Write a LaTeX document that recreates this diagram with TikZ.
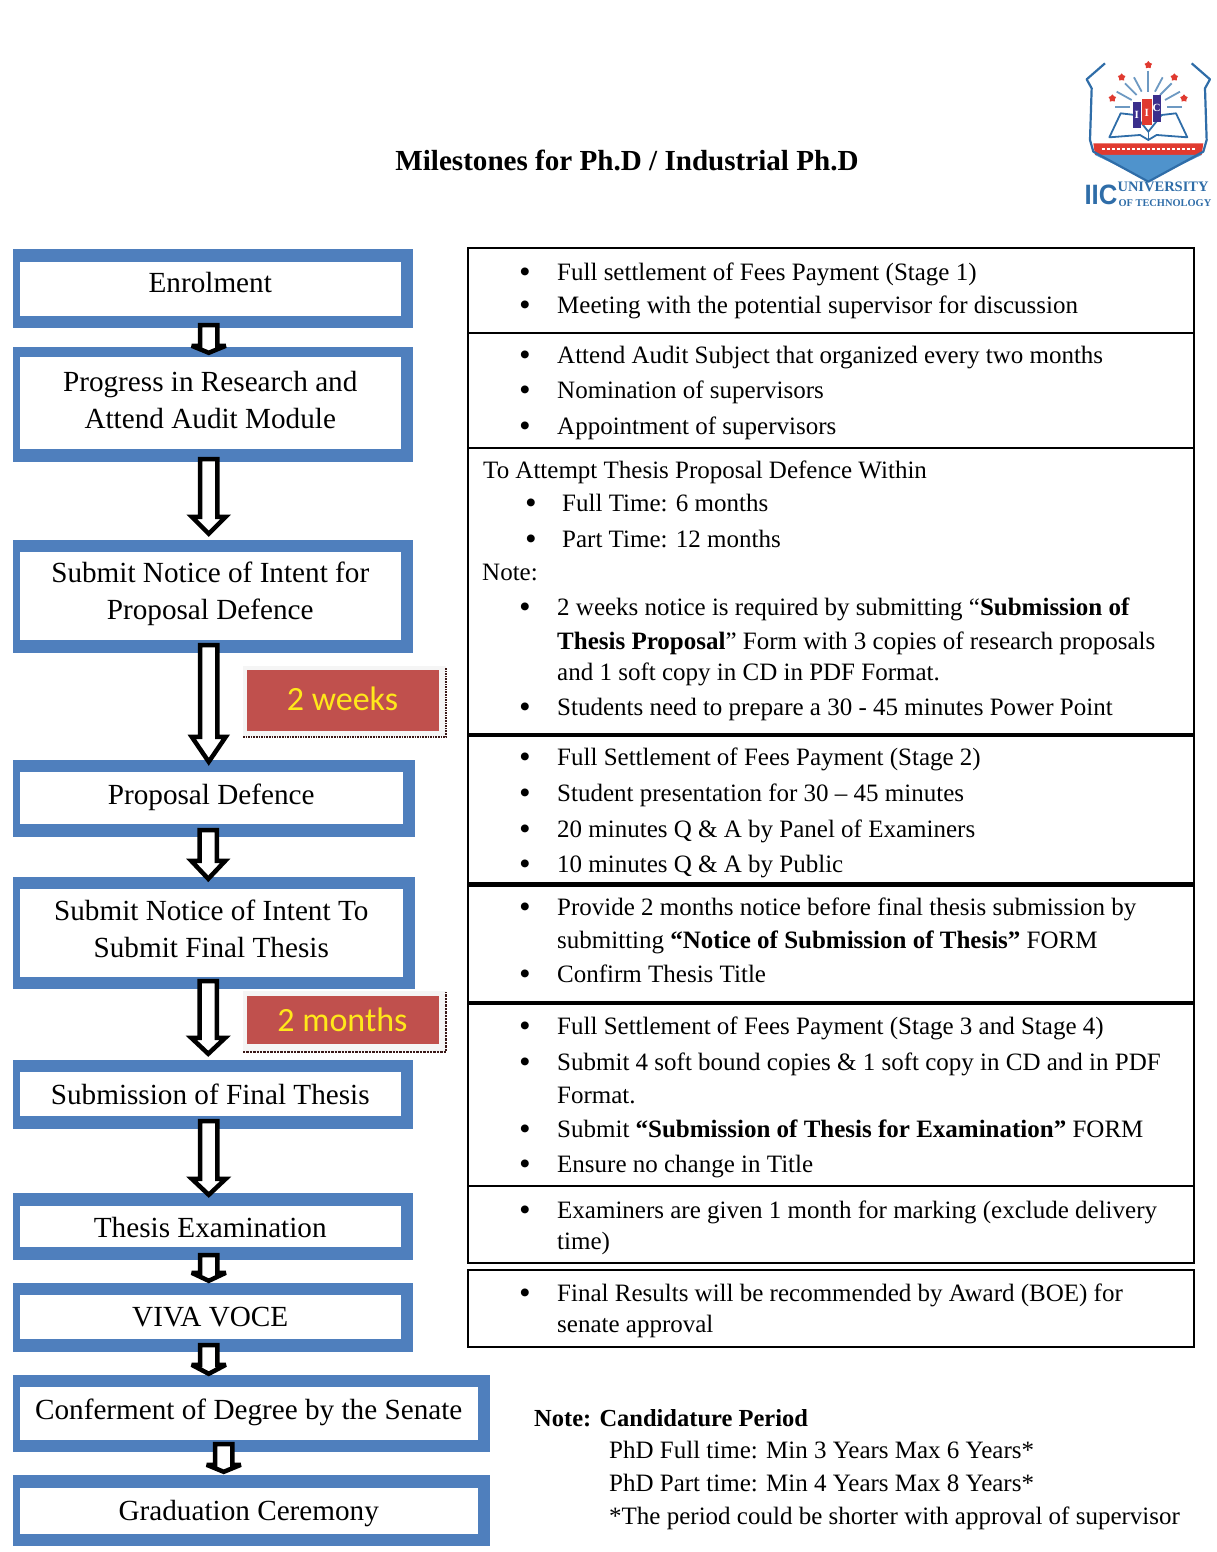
\documentclass[tikz,border=0pt]{standalone}
\usepackage{fontspec}
\setmainfont{Liberation Serif}
\setsansfont{Liberation Sans}
\newfontfamily\tagfont{Carlito}
\usetikzlibrary{calc,shapes.geometric}
\definecolor{stageblue}{HTML}{4F7FBD}
\definecolor{tagred}{HTML}{C0504D}
\definecolor{tagyellow}{HTML}{FFE81A}
\definecolor{crestblue}{HTML}{2F6DA8}
\definecolor{crestsky}{HTML}{4F93CC}
\definecolor{crestred}{HTML}{E03A30}
\definecolor{crestpurple}{HTML}{3B2F8C}
\begin{document}
\begin{tikzpicture}[x=1pt, y=-1pt,
    stagebox/.style={fill=white, inner sep=0pt},
    stagetext/.style={align=center, inner sep=0pt, font=\fontsize{29.2}{37.5}\selectfont},
    rowtext/.style={anchor=base west, inner sep=0pt, font=\fontsize{25}{30}\selectfont},
    rowbullet/.style={anchor=base, inner sep=0pt, yshift=-1.5pt, font=\bfseries\fontsize{29}{30}\selectfont},
    tagbox/.style={fill=tagred, text=tagyellow, inner sep=0pt, minimum width=192pt, font=\tagfont\fontsize{34}{36}\selectfont},
    blockarrow/.style={draw=black, fill=white, line width=4.5pt, miter limit=3,
        to path={let \p1=(\tikztostart), \p2=(\tikztotarget) in
            (\x1-8.7pt,\y1) -- (\x1+8.7pt,\y1) -- (\x1+8.7pt,\y2+#1pt) -- (\x1+17pt,\y2+#1pt)
            -- (\x1,\y2) -- (\x1-17pt,\y2+#1pt) -- (\x1-8.7pt,\y2+#1pt) -- cycle}},
    blockarrow/.default=17]
\useasboundingbox (0,0) rectangle (1217,1552);

\node[anchor=base, inner sep=0pt, font=\bfseries\fontsize{29.1}{32}\selectfont] (title) at (627,170)
    {Milestones for Ph.D / Industrial Ph.D};

% left column
\foreach \n/\xa/\ya/\xb/\yb/\ia/\ib/\ty/\t in {
    enrol/13/249/413/328/262/316/283/{Enrolment},
    progress/13/347/413/462/357/449/400/{Progress in Research and\\Attend Audit Module},
    notice/13/540/413/653/552/640/594/{Submit Notice of Intent for\\Proposal Defence},
    defence/13/760/415/837/772/824/797/{Proposal Defence},
    intent/13/877/415/989/889/977/929/{Submit Notice of Intent To\\Submit Final Thesis},
    submission/13/1060/413/1129/1072/1116/1094/{Submission of Final Thesis},
    examination/13/1193/413/1260/1206/1247/1227/{Thesis Examination},
    viva/13/1283/413/1352/1295/1339/1317/{VIVA VOCE},
    senate/13/1375/490/1452/1387/1440/1412/{Conferment of Degree by the Senate},
    ceremony/13/1475/490/1546/1488/1534/1514/{Graduation Ceremony}} {
    \fill[stageblue] (\xa,\ya) rectangle (\xb,\yb);
    \node[stagebox, minimum width={(\xb-\xa-18.5)*1pt}, minimum height={(\ib-\ia)*1pt}]
        (\n) at ({(\xa+6.5+\xb-12)/2},{(\ia+\ib)/2}) {};
    \node[stagetext] (\n-text) at (\n |- 0,\ty) {\t};
}

\draw[blockarrow=7] ([xshift=-1.5pt,yshift=-9pt]enrol.south) to ([yshift=4pt]progress.north);
\draw[blockarrow=17] ([xshift=-1.5pt,yshift=-10pt]progress.south) to ([yshift=18pt]notice.north);
\draw[blockarrow=25] ([xshift=-1.5pt,yshift=-5pt]notice.south) to ([yshift=10pt]defence.north);
\draw[blockarrow=18] ([xshift=-3pt,yshift=-6pt]defence.south) to ([yshift=10pt]intent.north);
\draw[blockarrow=16] ([xshift=-3pt,yshift=-4pt]intent.south) to ([yshift=18pt]submission.north);
\draw[blockarrow=16] ([xshift=-1.5pt,yshift=-5pt]submission.south) to ([yshift=11pt]examination.north);
\draw[blockarrow=8] ([xshift=-1.5pt,yshift=-8pt]examination.south) to ([yshift=14pt]viva.north);
\draw[blockarrow=9] ([xshift=-1.5pt,yshift=-6pt]viva.south) to ([yshift=13pt]senate.north);
\draw[blockarrow=7] ([xshift=-25pt,yshift=-4pt]senate.south) to ([yshift=16pt]ceremony.north);

% time tags
\fill[black!4] (243,666) rectangle (446,737);
\draw[black!70!tagred, line width=1.6pt, densely dotted] (243,737) -- (446,737) -- (446,668);
\node[tagbox, minimum height=61pt] (weeks) at (342.5,700.5) {\raisebox{3pt}{2 weeks}};
\fill[black!4] (243,991) rectangle (446,1052);
\draw[black!70!tagred, line width=2.4pt, densely dotted] (243,1052) -- (446,1052) -- (446,992);
\node[tagbox, minimum height=48pt] (months) at (342.5,1019.5) {\raisebox{-3pt}{2 months}};

% table on the right
\draw[line width=1.8pt] (468,248) rectangle (1194,1263);
\foreach \y/\w in {333/1.8, 448/1.8, 735/4, 884/5, 1003/4, 1186/1.8}
    \draw[line width=\w pt] (468,\y) -- (1194,\y);
\draw[line width=1.8pt] (468,1270) rectangle (1194,1347);

\foreach \y/\t [count=\i] in {
    280/{Full settlement of Fees Payment (Stage 1)},
    313/{Meeting with the potential supervisor for discussion},
    363/{Attend Audit Subject that organized every two months},
    398/{Nomination of supervisors},
    434/{Appointment of supervisors},
    615/{2 weeks notice is required by submitting “\textbf{Submission of}},
    715/{Students need to prepare a 30 - 45 minutes Power Point},
    765/{Full Settlement of Fees Payment (Stage 2)},
    801/{Student presentation for 30 – 45 minutes},
    837/{20 minutes Q \& A by Panel of Examiners},
    872/{10 minutes Q \& A by Public},
    915/{Provide 2 months notice before final thesis submission by},
    982/{Confirm Thesis Title},
    1034/{Full Settlement of Fees Payment (Stage 3 and Stage 4)},
    1070/{Submit 4 soft bound copies \& 1 soft copy in CD and in PDF},
    1137/{Submit \textbf{“Submission of Thesis for Examination”} FORM},
    1172/{Ensure no change in Title},
    1218/{Examiners are given 1 month for marking (exclude delivery},
    1301/{Final Results will be recommended by Award (BOE) for}} {
    \node[rowbullet] (dot\i) at (525,\y) {•};
    \node[rowtext] (item\i) at (557,\y) {\t};
}
\node[rowbullet] (dotA) at (531,511) {•};
\node[rowtext] (timeA) at (562,511) {Full Time: 6 months};
\node[rowbullet] (dotB) at (531,547) {•};
\node[rowtext] (timeB) at (562,547) {Part Time: 12 months};

\foreach \x/\y/\t [count=\i] in {
    483/478/{To Attempt Thesis Proposal Defence Within},
    482/580/{Note:},
    557/649/{\textbf{Thesis Proposal}” Form with 3 copies of research proposals},
    557/680/{and 1 soft copy in CD in PDF Format.},
    557/948/{submitting \textbf{“Notice of Submission of Thesis”} FORM},
    557/1103/{Format.},
    557/1249/{time)},
    557/1332/{senate approval},
    609/1458/{PhD Full time: Min 3 Years Max 6 Years*},
    609/1491/{PhD Part time: Min 4 Years Max 8 Years*},
    609/1524/{*The period could be shorter with approval of supervisor}}
    \node[rowtext] (line\i) at (\x,\y) {\t};
\node[rowtext, font=\bfseries\fontsize{24.5}{30}\selectfont] (period) at (534,1426) {Note: Candidature Period};

% crest
\begin{scope}[shift={(1060,50)}, x=.3333pt, y=-.3333pt]
    \fill[crestred] (100,280) -- (430,280) -- (425,315) -- (105,315) -- cycle;
    \fill[crestsky] (105,315) -- (425,315) -- (265,392) -- cycle;
    \draw[white, line width=1.6pt, densely dashed] (125,297) -- (405,297);
    \draw[crestblue, line width=2.2pt, line join=round] (135,40) -- (80,88) -- (95,115) -- (90,270) -- (100,305)
        -- (265,395) -- (430,305) -- (440,270) -- (435,115) -- (450,88) -- (395,40);
    \foreach \xa/\ya/\xb/\yb in {265/62/265/125, 222/82/245/125, 308/82/285/125, 195/100/230/135,
        335/100/300/135, 170/125/215/150, 360/125/315/150, 165/170/210/170, 365/170/320/170}
        \draw[crestblue!70, line width=1.8pt] (\xa,\ya) -- (\xb,\yb);
    \foreach \x/\y [count=\i] in {265/45, 185/82, 343/82, 157/145, 372/145}
        \node[star, star points=5, fill=crestred, inner sep=0pt, minimum size=8pt] (spark\i) at (\x,\y) {};
    \draw[crestblue, line width=1.8pt, line join=round] (148,262) -- (182,190) -- (225,195) -- (265,245) -- (305,195)
        -- (348,190) -- (382,262) -- (290,255) -- (265,270) -- (240,255) -- cycle;
    \draw[crestblue, line width=1.2pt] (265,245) -- (265,270);
    \fill[crestpurple] (218,155) rectangle (242,235);
    \fill[crestred] (245,148) rectangle (275,225);
    \fill[crestpurple] (278,135) rectangle (302,215);
    \node[text=white, inner sep=0pt, font=\bfseries\fontsize{11}{11}\selectfont] (bookA) at (230,195) {I};
    \node[text=white, inner sep=0pt, font=\bfseries\fontsize{11}{11}\selectfont] (bookB) at (260,188) {I};
    \node[text=white, inner sep=0pt, font=\bfseries\fontsize{11}{11}\selectfont] (bookC) at (290,175) {C};
    \node[anchor=base west, text=crestblue, inner sep=0pt, font=\sffamily\bfseries\fontsize{28}{28}\selectfont] (iic) at (73,465) {\scalebox{.92}[1]{IIC}};
    \node[anchor=base west, text=crestblue, inner sep=0pt, font=\bfseries\fontsize{14.5}{15}\selectfont] (univ) at (172,426) {UNIVERSITY};
    \node[anchor=base west, text=crestblue, inner sep=0pt, font=\bfseries\fontsize{10.4}{11}\selectfont] (tech) at (175,471) {OF TECHNOLOGY};
\end{scope}
\end{tikzpicture}
\end{document}
